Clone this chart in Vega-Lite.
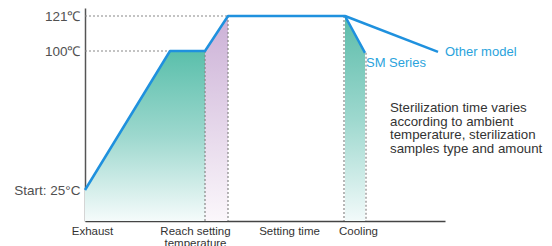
{
  "$schema": "https://vega.github.io/schema/vega-lite/v6.json",
  "width": 360,
  "height": 213,
  "autosize": {"type": "none"},
  "padding": {"left": 85, "top": 8, "right": 107, "bottom": 25},
  "background": "white",
  "config": {"view": {"stroke": null}, "font": "Liberation Sans"},
  "datasets": {
    "curve": [
      {"t": 0, "temp": 25, "series": "SM Series"},
      {"t": 85, "temp": 100, "series": "SM Series"},
      {"t": 120, "temp": 100, "series": "SM Series"},
      {"t": 143, "temp": 121, "series": "SM Series"},
      {"t": 260, "temp": 121, "series": "SM Series"},
      {"t": 280, "temp": 99, "series": "SM Series"},
      {"t": 260, "temp": 121, "series": "Other model"},
      {"t": 353, "temp": 99.5, "series": "Other model"}
    ],
    "vrules": [
      {"t": 120, "top": 100, "bottom": 8},
      {"t": 143, "top": 121, "bottom": 8},
      {"t": 259, "top": 121, "bottom": 8},
      {"t": 281, "top": 99, "bottom": 8}
    ],
    "hrules": [
      {"temp": 121, "tstart": 0, "tend": 143},
      {"temp": 100, "tstart": 0, "tend": 85}
    ],
    "series_labels": [
      {"t": 360, "temp": 99.5, "label": "Other model"},
      {"t": 281, "temp": 93.5, "label": "SM Series"}
    ],
    "note": [
      {"t": 305, "temp": 73, "label": "Sterilization time varies\naccording to ambient\ntemperature, sterilization\nsamples type and amount"}
    ]
  },
  "layer": [
    {
      "data": {"name": "curve"},
      "transform": [{"filter": "datum.series == 'SM Series' && datum.t <= 120"}, {"calculate": "8", "as": "base"}],
      "mark": {"type": "area", "color": {"gradient": "linear", "x1": 0, "y1": 0, "x2": 0, "y2": 1, "stops": [{"offset": 0, "color": "#5abfab"}, {"offset": 0.5, "color": "#9dd8ce"}, {"offset": 1, "color": "#f5fbfb"}]}},
      "encoding": {
        "x": {"field": "t", "type": "quantitative", "scale": {"domain": [0, 360], "nice": false, "zero": false},
          "axis": {"values": [7, 110, 204, 273], "labelExpr": "datum.value == 7 ? 'Exhaust' : datum.value == 110 ? ['Reach setting', 'temperature'] : datum.value == 204 ? 'Setting time' : 'Cooling'", "ticks": false, "grid": false, "title": null, "domainColor": "#444", "domainWidth": 1.5, "labelFontSize": 11.5, "labelColor": "#333", "labelPadding": 4, "labelOverlap": false, "labelFlush": false, "labelBaseline": "top", "labelLineHeight": 12}},
        "y": {"field": "temp", "type": "quantitative", "scale": {"domain": [8, 25, 100, 121, 125], "range": [213, 182, 43, 8, 0], "nice": false, "zero": false},
          "axis": {"values": [25, 100, 121], "labelExpr": "datum.value == 25 ? 'Start: 25°C' : datum.value + '℃'", "ticks": false, "grid": false, "title": null, "domainColor": "#555", "domainWidth": 1.5, "labelFontSize": 13.5, "labelColor": "#505050", "labelPadding": 5}},
        "y2": {"field": "base"}
      }
    },
    {
      "data": {"name": "curve"},
      "transform": [{"filter": "datum.series == 'SM Series' && datum.t >= 120 && datum.t <= 143"}, {"calculate": "8", "as": "base"}],
      "mark": {"type": "area", "color": {"gradient": "linear", "x1": 0, "y1": 0, "x2": 0, "y2": 1, "stops": [{"offset": 0, "color": "#cbb0d6"}, {"offset": 1, "color": "#fbf7fb"}]}},
      "encoding": {
        "x": {"field": "t", "type": "quantitative"},
        "y": {"field": "temp", "type": "quantitative"},
        "y2": {"field": "base"}
      }
    },
    {
      "data": {"name": "curve"},
      "transform": [{"filter": "datum.series == 'SM Series' && datum.t >= 260"}, {"calculate": "8", "as": "base"}],
      "mark": {"type": "area", "color": {"gradient": "linear", "x1": 0, "y1": 0, "x2": 0, "y2": 1, "stops": [{"offset": 0, "color": "#5cbcaa"}, {"offset": 0.5, "color": "#9dd8ce"}, {"offset": 1, "color": "#f2fafa"}]}},
      "encoding": {
        "x": {"field": "t", "type": "quantitative"},
        "y": {"field": "temp", "type": "quantitative"},
        "y2": {"field": "base"}
      }
    },
    {
      "data": {"name": "vrules"},
      "mark": {"type": "rule", "color": "#888", "strokeDash": [2, 2], "strokeWidth": 1.2},
      "encoding": {
        "x": {"field": "t", "type": "quantitative"},
        "y": {"field": "top", "type": "quantitative"},
        "y2": {"field": "bottom"}
      }
    },
    {
      "data": {"name": "hrules"},
      "mark": {"type": "rule", "color": "#888", "strokeDash": [2, 2], "strokeWidth": 1.2},
      "encoding": {
        "y": {"field": "temp", "type": "quantitative"},
        "x": {"field": "tstart", "type": "quantitative"},
        "x2": {"field": "tend"}
      }
    },
    {
      "data": {"name": "curve"},
      "mark": {"type": "line", "color": "#1f91de", "strokeWidth": 2.5, "strokeJoin": "round"},
      "encoding": {
        "x": {"field": "t", "type": "quantitative"},
        "y": {"field": "temp", "type": "quantitative"},
        "detail": {"field": "series", "type": "nominal"}
      }
    },
    {
      "data": {"name": "series_labels"},
      "mark": {"type": "text", "align": "left", "baseline": "middle", "fontSize": 13, "color": "#2aa3dc"},
      "encoding": {
        "x": {"field": "t", "type": "quantitative"},
        "y": {"field": "temp", "type": "quantitative"},
        "text": {"field": "label", "type": "nominal"}
      }
    },
    {
      "data": {"name": "note"},
      "mark": {"type": "text", "align": "left", "baseline": "top", "fontSize": 13.3, "lineHeight": 13.5, "color": "#333", "lineBreak": "\n"},
      "encoding": {
        "x": {"field": "t", "type": "quantitative"},
        "y": {"field": "temp", "type": "quantitative"},
        "text": {"field": "label", "type": "nominal"}
      }
    }
  ]
}
